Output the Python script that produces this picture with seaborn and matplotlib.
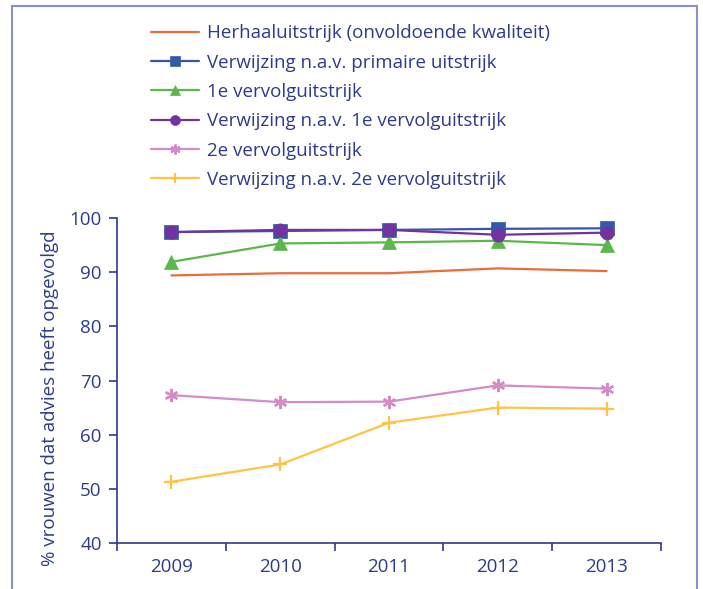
import pandas as pd
import matplotlib.pyplot as plt
import seaborn as sns
import matplotlib
from matplotlib.patches import Rectangle
from matplotlib.ticker import FixedLocator, NullFormatter

# Data
jaren = [2009, 2010, 2011, 2012, 2013]
herhaal = [89.4, 89.8, 89.8, 90.7, 90.2]
verw_primair = [97.4, 97.6, 97.8, 98.0, 98.1]
vervolg_1e = [91.9, 95.3, 95.5, 95.8, 95.0]
verw_1e = [97.4, 97.8, 97.8, 96.9, 97.3]
vervolg_2e = [67.3, 66.0, 66.1, 69.1, 68.5]
verw_2e = [51.3, 54.5, 62.2, 65.0, 64.8]

reeksen = [
    ('Herhaaluitstrijk (onvoldoende kwaliteit)', herhaal, '#EC6A3C', None),
    ('Verwijzing n.a.v. primaire uitstrijk', verw_primair, '#3558A8', 's'),
    ('1e vervolguitstrijk', vervolg_1e, '#5BB74B', '^'),
    ('Verwijzing n.a.v. 1e vervolguitstrijk', verw_1e, '#7232A0', 'o'),
    ('2e vervolguitstrijk', vervolg_2e, '#D48CC6', (6, 2, 0)),
    ('Verwijzing n.a.v. 2e vervolguitstrijk', verw_2e, '#FFC444', '+'),
]

sns.set_style('white')
tekst = '#2C3B8A'
plt.rcParams['font.family'] = ['Open Sans', 'DejaVu Sans']
matplotlib.rcParams['font.size'] = 13.5

fig = plt.figure(figsize=(7.03, 5.89), dpi=100)
ax = fig.add_axes([117 / 703, 46 / 589, 544 / 703, 325 / 589])

for naam, waarden, kleur, marker in reeksen:
    df = pd.DataFrame({'jaar': jaren, 'pct': waarden})
    sns.lineplot(data=df, x='jaar', y='pct', ax=ax, color=kleur, linewidth=1.6,
                 marker=marker if marker else '', markersize=9.5,
                 markeredgewidth=1.6 if marker in ('+', (6, 2, 0)) else 0.5,
                 markeredgecolor=kleur, label=naam)

ax.set_ylim(40, 100)
ax.set_yticks(range(40, 101, 10))
ax.set_xlim(2008.5, 2013.5)
ax.xaxis.set_major_locator(FixedLocator([2008.5, 2009.5, 2010.5, 2011.5, 2012.5, 2013.5]))
ax.xaxis.set_major_formatter(NullFormatter())
ax.set_xticks(jaren, [str(j) for j in jaren], minor=True)
ax.tick_params(axis='x', which='major', length=6, width=1.2, color=tekst, direction='out', bottom=True)
ax.tick_params(axis='x', which='minor', length=0, labelsize=13.5, labelcolor=tekst, pad=11)
ax.tick_params(axis='y', length=6, width=1.2, color=tekst, direction='out', left=True,
               labelsize=13.5, labelcolor=tekst, pad=5)

sns.despine(ax=ax)
for s in ('left', 'bottom'):
    ax.spines[s].set_color(tekst)
    ax.spines[s].set_linewidth(1.2)

ax.set_xlabel('')
ax.set_ylabel('% vrouwen dat advies heeft opgevolgd', fontsize=13.5, color=tekst)
ax.yaxis.set_label_coords(-0.106, 0.445)

handles, labels = ax.get_legend_handles_labels()
ax.legend(handles, labels, loc='upper left', bbox_to_anchor=(143 / 703, 1 - 17 / 589),
          bbox_transform=fig.transFigure, frameon=False, fontsize=13.5, labelcolor=tekst,
          handlelength=2.6, handletextpad=0.4, labelspacing=0.6, markerscale=0.75,
          borderaxespad=0)

# blauwe kader rond de figuur
fig.patches.append(Rectangle((12 / 703, -0.05), 685 / 703, 1 - 6 / 589 + 0.05,
                             transform=fig.transFigure, fill=False,
                             edgecolor='#8C90CA', linewidth=1.5))

plt.savefig('out.png', dpi=100)
plt.close()
